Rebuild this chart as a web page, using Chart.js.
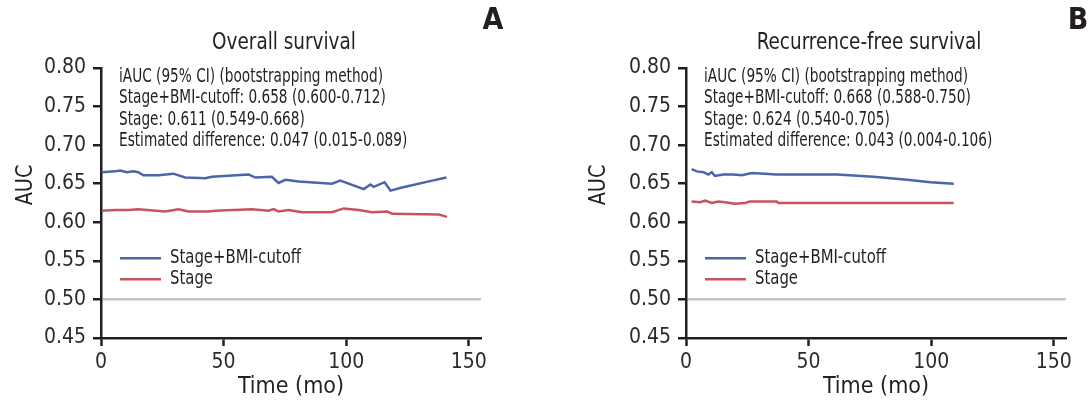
<!DOCTYPE html>
<html>
<head>
<meta charset="utf-8">
<script src="https://cdn.jsdelivr.net/npm/chart.js@4.4.1/dist/chart.umd.min.js"></script>
<style>
  html, body { margin: 0; padding: 0; background: #fff; }
  #wrap { position: relative; width: 1088px; height: 401px; }
  canvas { position: absolute; top: 0; }
</style>
</head>
<body>
<div id="wrap">
  <canvas id="osChart" width="544" height="401" style="left:0"></canvas>
  <canvas id="rfsChart" width="544" height="401" style="left:544px"></canvas>
</div>
<script>
// Overall survival (panel A)
const osComboTime = [0.3, 5.7, 7.8, 10.5, 13.2, 15.2, 17.3, 23.4, 29.5, 34.3, 42.5, 45.2, 60.2, 62.9, 69.7, 72.4, 75.2, 80.6, 94.2, 97.6, 107.2, 109.9, 111.2, 115.7, 118.1, 122.8, 135.1, 140.9];
const osComboAuc = [0.665, 0.666, 0.667, 0.665, 0.666, 0.665, 0.661, 0.661, 0.663, 0.658, 0.657, 0.659, 0.662, 0.658, 0.659, 0.651, 0.655, 0.653, 0.650, 0.654, 0.643, 0.649, 0.646, 0.652, 0.641, 0.645, 0.654, 0.658];
const osStageTime = [0.3, 5.7, 11.2, 15.2, 26.1, 31.6, 35.7, 43.8, 46.6, 61.6, 68.4, 70.4, 72.4, 76.5, 82.0, 94.2, 99.0, 105.1, 110.6, 116.7, 118.8, 137.8, 141.2];
const osStageAuc = [0.615, 0.616, 0.616, 0.617, 0.614, 0.617, 0.614, 0.614, 0.615, 0.617, 0.615, 0.617, 0.614, 0.616, 0.613, 0.613, 0.618, 0.616, 0.613, 0.614, 0.611, 0.610, 0.607];

// Recurrence-free survival (panel B)
const rfsComboTime = [2.3, 4.4, 7.1, 9.1, 10.5, 11.8, 15.2, 19.3, 22.8, 26.8, 37.0, 49.3, 61.6, 76.5, 90.2, 99.7, 109.2];
const rfsComboAuc = [0.669, 0.666, 0.665, 0.662, 0.665, 0.660, 0.662, 0.662, 0.661, 0.664, 0.662, 0.662, 0.662, 0.659, 0.655, 0.652, 0.650];
const rfsStageTime = [2.3, 5.7, 7.8, 10.5, 13.2, 15.9, 20.0, 24.1, 26.1, 37.0, 37.7, 109.2];
const rfsStageAuc = [0.627, 0.626, 0.628, 0.625, 0.627, 0.626, 0.624, 0.625, 0.627, 0.627, 0.625, 0.625];

const yTicks = [0.45, 0.50, 0.55, 0.60, 0.65, 0.70, 0.75, 0.80];
const xTicks = [0, 50, 100, 150];
const seriesLabels = ["Stage+BMI-cutoff", "Stage"];

const osNotes = [
  "iAUC (95% CI) (bootstrapping method)",
  "Stage+BMI-cutoff: 0.658 (0.600-0.712)",
  "Stage: 0.611 (0.549-0.668)",
  "Estimated difference: 0.047 (0.015-0.089)",
];
const rfsNotes = [
  "iAUC (95% CI) (bootstrapping method)",
  "Stage+BMI-cutoff: 0.668 (0.588-0.750)",
  "Stage: 0.624 (0.540-0.705)",
  "Estimated difference: 0.043 (0.004-0.106)",
];

const FONT = "'Liberation Sans Narrow', 'DejaVu Sans Condensed', 'Arial Narrow', sans-serif";
const INK = "#231f20";
const BLUE = "#4a66a6";
const RED = "#c8535e";

function toPoints(xs, ys) {
  return xs.map((x, i) => ({ x, y: ys[i] }));
}

// the original uses a narrow face, so squeeze our text a bit
function narrowText(ctx, text, x, y, sx) {
  ctx.save();
  ctx.translate(x, y);
  ctx.scale(sx, 1);
  ctx.fillText(text, 0, 0);
  ctx.restore();
}

// titles, panel letter, notes and legend drawn on top of the plot
const panelDecor = {
  id: "panelDecor",
  afterDraw(chart, args, opts) {
    const { ctx, chartArea } = chart;
    const ax = chartArea.left;
    ctx.save();
    ctx.fillStyle = INK;
    ctx.textBaseline = "middle";

    ctx.textAlign = "center";
    ctx.font = `23px ${FONT}`;
    narrowText(ctx, opts.title, ax + 183, 43, 0.89);

    ctx.font = `bold 30px ${FONT}`;
    ctx.fillText(opts.letter, opts.letterX, 21);

    ctx.save();
    ctx.translate(opts.yTitleX, 185);
    ctx.rotate(-Math.PI / 2);
    ctx.font = `23px ${FONT}`;
    narrowText(ctx, "AUC", 0, 0, 0.93);
    ctx.restore();

    ctx.textAlign = "left";
    ctx.font = `19px ${FONT}`;
    opts.notes.forEach((line, i) => narrowText(ctx, line, ax + 18, 77 + i * 21.3, 0.8));

    chart.data.datasets.forEach((ds, i) => {
      const y = 258.3 + i * 21;
      ctx.strokeStyle = ds.borderColor;
      ctx.lineWidth = 2.5;
      ctx.beginPath();
      ctx.moveTo(ax + 19, y);
      ctx.lineTo(ax + 60, y);
      ctx.stroke();
      narrowText(ctx, ds.label, ax + 69, y, 0.87);
    });
    ctx.restore();
  },
};

function makePanel(canvasId, combo, stage, decor, yAxisWidth, padRight) {
  const ctx = document.getElementById(canvasId).getContext("2d");
  return new Chart(ctx, {
    type: "line",
    data: {
      datasets: [
        { label: seriesLabels[0], data: combo, borderColor: BLUE, borderWidth: 2.5, pointRadius: 0, tension: 0 },
        { label: seriesLabels[1], data: stage, borderColor: RED, borderWidth: 2.5, pointRadius: 0, tension: 0 },
      ],
    },
    options: {
      responsive: false,
      animation: false,
      layout: { padding: { top: 68, right: padRight, bottom: 0, left: 0 } },
      plugins: {
        legend: { display: false },
        tooltip: { enabled: false },
        panelDecor: decor,
      },
      scales: {
        x: {
          type: "linear",
          min: 0,
          max: 155,
          afterBuildTicks: (scale) => { scale.ticks = xTicks.map((v) => ({ value: v })); },
          afterFit: (scale) => { scale.height = 63; },
          border: { color: INK, width: 2.5 },
          grid: { drawOnChartArea: false, tickLength: 8, tickColor: INK, tickWidth: 2.5 },
          ticks: { color: "#2b2b2b", padding: 4, font: { family: FONT, size: 21 } },
          title: { display: true, text: "Time (mo)", color: INK, padding: { top: 0, bottom: 0 }, font: { family: FONT, size: 23 } },
        },
        y: {
          min: 0.45,
          max: 0.80,
          afterBuildTicks: (scale) => { scale.ticks = yTicks.map((v) => ({ value: v })); },
          afterFit: (scale) => { scale.width = yAxisWidth; },
          border: { color: INK, width: 2.5 },
          grid: {
            color: (c) => (c.tick && Math.abs(c.tick.value - 0.5) < 1e-6 ? "#c4c4c4" : "rgba(0,0,0,0)"),
            lineWidth: 2.5,
            tickLength: 8,
            tickColor: INK,
            tickWidth: 2.5,
          },
          ticks: {
            color: "#2b2b2b",
            padding: 7,
            font: { family: FONT, size: 21 },
            callback: (v) => Number(v).toFixed(2),
          },
        },
      },
    },
    plugins: [panelDecor],
  });
}

makePanel(
  "osChart",
  toPoints(osComboTime, osComboAuc),
  toPoints(osStageTime, osStageAuc),
  { title: "Overall survival", letter: "A", letterX: 493, yTitleX: 26, notes: osNotes },
  101,
  63
);

makePanel(
  "rfsChart",
  toPoints(rfsComboTime, rfsComboAuc),
  toPoints(rfsStageTime, rfsStageAuc),
  { title: "Recurrence-free survival", letter: "B", letterX: 534, yTitleX: 55, notes: rfsNotes },
  142,
  22
);
</script>
</body>
</html>
